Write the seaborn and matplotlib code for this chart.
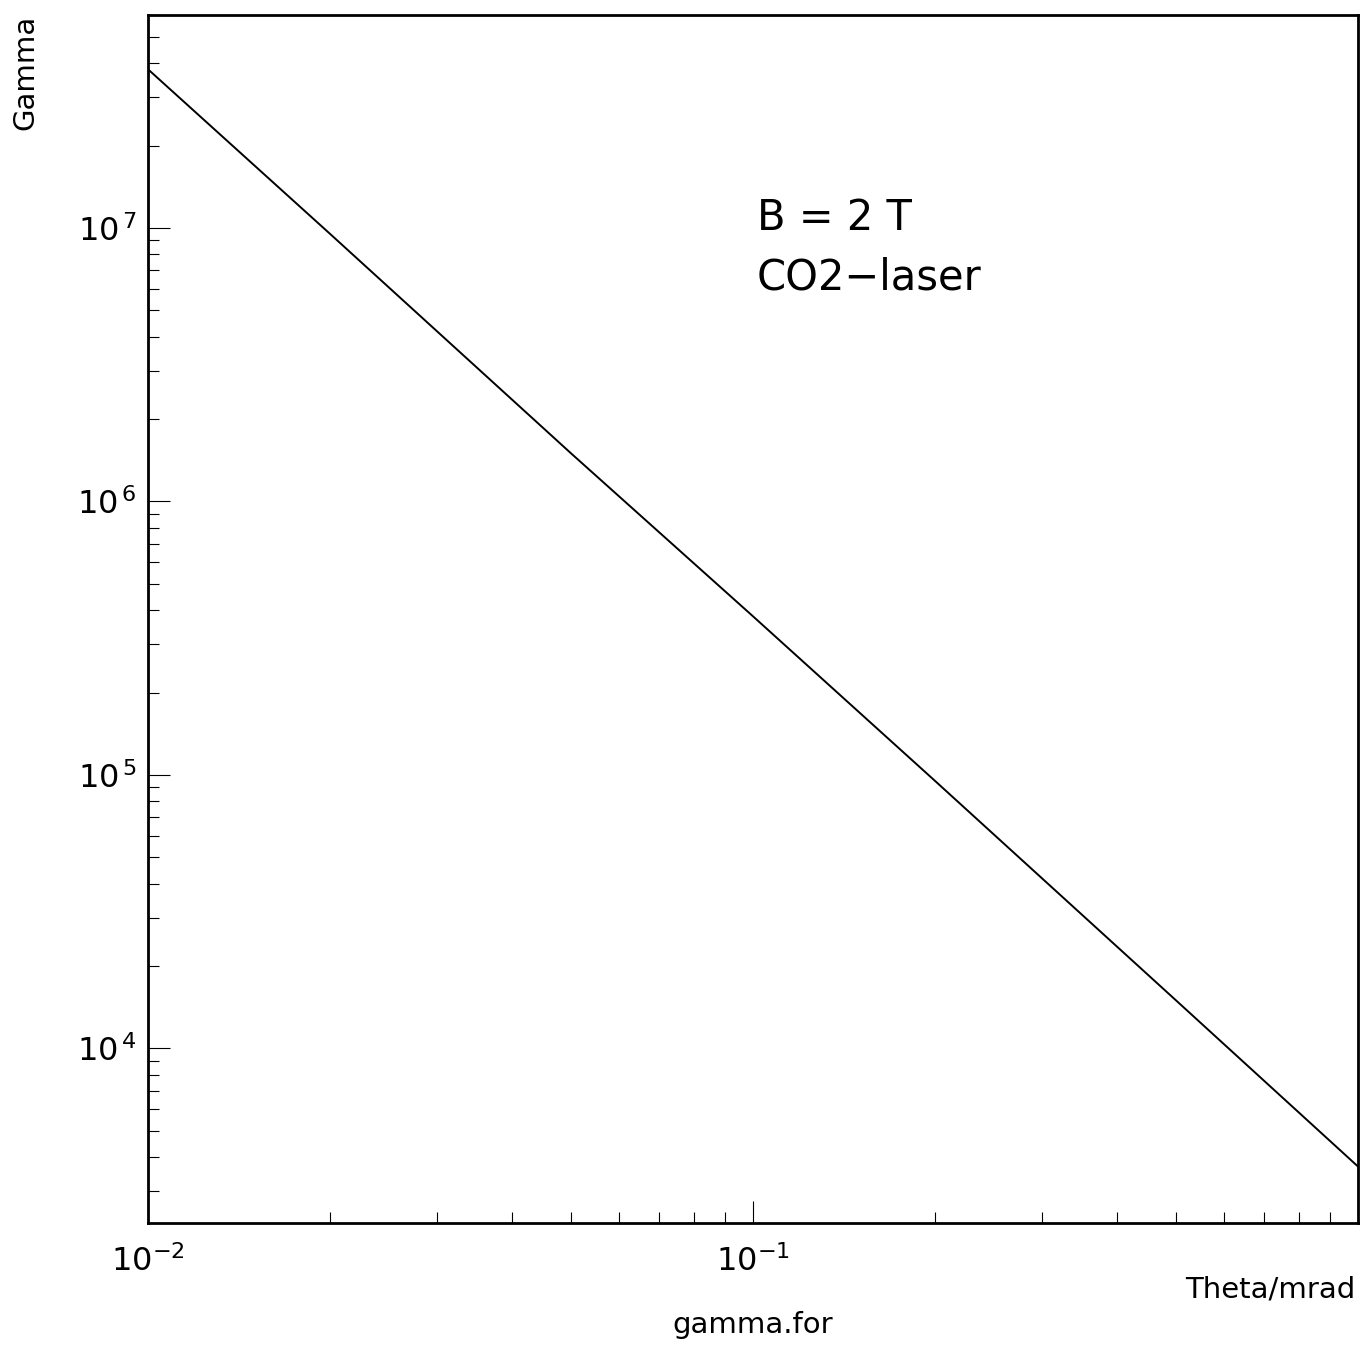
import matplotlib
matplotlib.use("Agg")
import matplotlib.pyplot as plt
import matplotlib.ticker as mticker
import numpy as np
import pandas as pd
import seaborn as sns

# Data
theta = [0.01, 0.02, 0.05, 0.1, 0.2, 0.5, 1.0]          # Theta / mrad
gamma = [3.8e7, 9.5e6, 1.5e6, 3.8e5, 9.5e4, 1.5e4, 3.7e3]  # Gamma

x_ticks = [0.01, 0.1]
y_ticks = [1e4, 1e5, 1e6, 1e7]
x_limits = [0.01, 1.0]
y_limits = [2.3e3, 6.0e7]

annot_lines = ["B = 2 T", "CO2\u2212laser"]
x_label = "Theta/mrad"
y_label = "Gamma"
footer = "gamma.for"

sns.set_style("white")
plt.rcParams["font.family"] = ["DejaVu Sans"]
plt.rcParams["mathtext.default"] = "regular"
plt.rcParams["text.color"] = "black"
plt.rcParams["xtick.color"] = "black"
plt.rcParams["ytick.color"] = "black"
plt.rcParams["xtick.labelcolor"] = "black"
plt.rcParams["ytick.labelcolor"] = "black"


def log_fmt(v, pos):
    e = int(round(np.log10(v)))
    if e < 0:
        return "$10^{-%d}$" % -e
    return r"$10^{\,%d}$" % e


W, H = 1363, 1346
fig = plt.figure(figsize=(W / 100, H / 100), dpi=100)
ax = fig.add_axes([148 / W, 1 - 1223 / H, 1210 / W, 1208 / H])

df = pd.DataFrame({"theta": theta, "gamma": gamma})
sns.lineplot(data=df, x="theta", y="gamma", ax=ax, color="black", linewidth=1.4)

ax.set_xscale("log")
ax.set_yscale("log")
ax.set_xlim(*x_limits)
ax.set_ylim(*y_limits)

ax.xaxis.set_major_locator(mticker.FixedLocator(x_ticks))
ax.yaxis.set_major_locator(mticker.FixedLocator(y_ticks))
ax.xaxis.set_minor_locator(mticker.LogLocator(base=10, subs=np.arange(2, 10), numticks=20))
ax.yaxis.set_minor_locator(mticker.LogLocator(base=10, subs=np.arange(2, 10), numticks=20))
ax.xaxis.set_major_formatter(mticker.FuncFormatter(log_fmt))
ax.yaxis.set_major_formatter(mticker.FuncFormatter(log_fmt))
ax.xaxis.set_minor_formatter(mticker.NullFormatter())
ax.yaxis.set_minor_formatter(mticker.NullFormatter())

ax.tick_params(axis="both", which="both", direction="in", top=False, right=False,
               bottom=True, left=True, color="black", width=0.8)
ax.tick_params(axis="both", which="major", length=16)
ax.tick_params(axis="both", which="minor", length=8)
ax.tick_params(axis="x", which="major", labelsize=23, pad=16)
ax.tick_params(axis="y", which="major", labelsize=23, pad=8)

for sp in ax.spines.values():
    sp.set_visible(True)
    sp.set_color("black")
    sp.set_linewidth(2.0)

ax.set_xlabel("")
ax.set_ylabel("")
ax.grid(False)

fig.text(25 / W, 1 - 15 / H, y_label, rotation=90, ha="center", va="top", fontsize=21)
fig.text(1355 / W, 1 - 1297 / H, x_label, ha="right", va="baseline", fontsize=21)
fig.text(753 / W, 1 - 1333 / H, footer, ha="center", va="baseline", fontsize=21)
fig.text(757 / W, 1 - 230 / H, annot_lines[0], ha="left", va="baseline", fontsize=30)
fig.text(757 / W, 1 - 290 / H, annot_lines[1], ha="left", va="baseline", fontsize=30)

fig.savefig("out.png", dpi=100, facecolor="white")
